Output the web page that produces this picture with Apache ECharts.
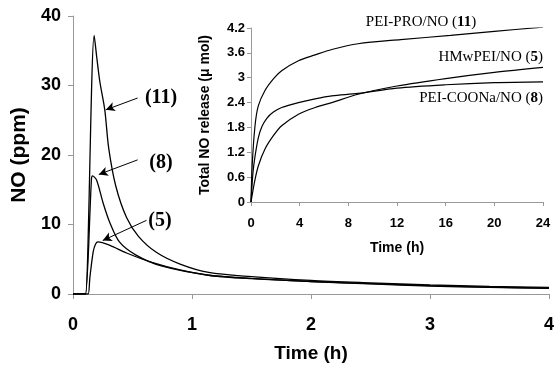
<!DOCTYPE html>
<html>
<head>
<meta charset="utf-8">
<script src="https://cdn.jsdelivr.net/npm/echarts@6/dist/echarts.min.js"></script>
<style>
  html, body { margin: 0; padding: 0; background: #fff; }
  #chart1 { width: 557px; height: 368px; }
</style>
</head>
<body>
<div id="chart1"></div>
<script>
// main chart: NO concentration (ppm) vs time (h)
var t11 = [0, 0.09, 0.105, 0.178, 0.20, 0.226, 0.267, 0.30, 0.36, 0.45, 0.55, 0.70, 0.90, 1.14, 1.5, 2.0, 2.5, 3.0, 3.5, 4.0];
var v11 = [0, 0, 0, 37.2, 34, 30.5, 26.5, 21, 15.5, 11, 8.3, 6, 4.3, 3.1, 2.5, 1.95, 1.6, 1.3, 1.1, 0.95];
var t8 = [0, 0.09, 0.105, 0.155, 0.164, 0.198, 0.253, 0.309, 0.39, 0.53, 0.75, 1.14, 1.5, 2.0, 2.5, 3.0, 3.5, 4.0];
var v8 = [0, 0, 0, 16.5, 17.0, 16.4, 13.1, 10.3, 7.5, 5.6, 4.0, 2.7, 2.2, 1.8, 1.45, 1.15, 0.95, 0.8];
var t5 = [0, 0.11, 0.128, 0.142, 0.17, 0.19, 0.21, 0.31, 0.45, 0.67, 0.89, 1.14, 1.5, 2.0, 2.5, 3.0, 3.5, 4.0];
var v5 = [0, 0, 0, 2.4, 6.1, 7.2, 7.5, 7.0, 5.9, 4.5, 3.5, 2.7, 2.25, 1.8, 1.5, 1.2, 1.0, 0.85];

// inset: total NO release (umol) vs time (h)
var it11 = [0, 0.1, 0.33, 0.6, 1.15, 1.84, 2.52, 3.9, 5.27, 6.64, 8.8, 12.3, 16.4, 20, 24];
var iv11 = [0, 0.9, 1.84, 2.32, 2.69, 2.97, 3.17, 3.41, 3.55, 3.68, 3.82, 3.92, 4.02, 4.12, 4.22];
var it8 = [0, 0.16, 0.33, 0.6, 0.9, 1.3, 1.84, 2.52, 3.9, 5.27, 6.64, 8.8, 12, 16, 20, 24];
var iv8 = [0, 0.7, 1.1, 1.55, 1.82, 2.02, 2.17, 2.28, 2.40, 2.49, 2.56, 2.62, 2.75, 2.83, 2.88, 2.9];
var it5 = [0, 0.3, 0.6, 1.15, 1.84, 2.52, 3.9, 5.27, 6.64, 8.8, 12, 16, 20, 24];
var iv5 = [0, 0.5, 0.87, 1.28, 1.6, 1.84, 2.12, 2.28, 2.40, 2.6, 2.8, 2.98, 3.13, 3.25];

// arrows pointing at the peaks, in data units of the main chart
var arrow11 = [[0.543, 28.2], [0.276, 26.5]];
var arrow8 = [[0.543, 19.3], [0.217, 17.2]];
var arrow5 = [[0.618, 10.6], [0.25, 7.7]];

function pairs(t, v) {
  return t.map(function (x, i) { return [x, v[i]]; });
}

var dom = document.getElementById('chart1');
var myChart = echarts.init(dom, null, { renderer: 'canvas' });

var axisGray = '#999';
var sans = 'Liberation Sans';
var serif = 'Liberation Serif';

function arrowLine(a) {
  return {
    silent: true,
    symbol: ['none', 'arrow'],
    symbolSize: [7, 9],
    lineStyle: { color: '#000', width: 1, type: 'solid' },
    label: { show: false },
    data: [[{ coord: a[0] }, { coord: a[1] }]]
  };
}

function mainSeries(t, v, arrow) {
  return {
    type: 'line',
    xAxisIndex: 0,
    yAxisIndex: 0,
    data: pairs(t, v),
    showSymbol: false,
    smooth: 0.3,
    lineStyle: { color: '#000', width: 1.3 },
    markLine: arrowLine(arrow)
  };
}

function insetSeries(t, v) {
  return {
    type: 'line',
    xAxisIndex: 1,
    yAxisIndex: 1,
    data: pairs(t, v),
    showSymbol: false,
    smooth: 0.3,
    lineStyle: { color: '#000', width: 1.2 }
  };
}

var option = {
  animation: false,
  backgroundColor: '#fff',
  grid: [
    { left: 73, right: 5, top: 16, bottom: 68 },
    { left: 251, right: 14, top: 28, bottom: 166 }
  ],
  xAxis: [
    {
      gridIndex: 0, type: 'value', min: 0, max: 4, interval: 1,
      name: 'Time (h)', nameLocation: 'middle', nameGap: 50,
      nameTextStyle: { fontFamily: sans, fontWeight: 'bold', fontSize: 19, color: '#000' },
      axisLine: { lineStyle: { color: axisGray } },
      axisTick: { length: 5, lineStyle: { color: axisGray } },
      axisLabel: { fontFamily: sans, fontWeight: 'bold', fontSize: 18, color: '#000', margin: 22 },
      splitLine: { show: false }
    },
    {
      gridIndex: 1, type: 'value', min: 0, max: 24, interval: 4,
      name: 'Time (h)', nameLocation: 'middle', nameGap: 39,
      nameTextStyle: { fontFamily: sans, fontWeight: 'bold', fontSize: 14, color: '#000' },
      axisLine: { lineStyle: { color: axisGray } },
      axisTick: { length: 4, lineStyle: { color: axisGray } },
      axisLabel: { fontFamily: sans, fontWeight: 'bold', fontSize: 13, color: '#000', margin: 15 },
      splitLine: { show: false }
    }
  ],
  yAxis: [
    {
      gridIndex: 0, type: 'value', min: 0, max: 40, interval: 10,
      name: 'NO (ppm)', nameLocation: 'middle', nameGap: 41,
      nameTextStyle: { fontFamily: sans, fontWeight: 'bold', fontSize: 21, color: '#000' },
      axisLine: { show: true, lineStyle: { color: axisGray } },
      axisTick: { show: true, length: 5, lineStyle: { color: axisGray } },
      axisLabel: { fontFamily: sans, fontWeight: 'bold', fontSize: 18, color: '#000', margin: 12 },
      splitLine: { show: false }
    },
    {
      gridIndex: 1, type: 'value', min: 0, max: 4.2, interval: 0.6,
      name: 'Total NO release (\u03bc mol)', nameLocation: 'middle', nameGap: 39,
      nameTextStyle: { fontFamily: sans, fontWeight: 'bold', fontSize: 14, color: '#000' },
      axisLine: { show: true, lineStyle: { color: axisGray } },
      axisTick: { show: true, length: 4, lineStyle: { color: axisGray } },
      axisLabel: {
        fontFamily: sans, fontWeight: 'bold', fontSize: 13, color: '#000', margin: 6,
        formatter: function (v) { return +v.toFixed(1) + ''; }
      },
      splitLine: { show: false }
    }
  ],
  graphic: [
    { type: 'text', x: 161, y: 98, style: { text: '(11)', font: 'bold 20px "Liberation Serif"', fill: '#000', align: 'center', verticalAlign: 'middle' } },
    { type: 'text', x: 161, y: 163, style: { text: '(8)', font: 'bold 20px "Liberation Serif"', fill: '#000', align: 'center', verticalAlign: 'middle' } },
    { type: 'text', x: 160, y: 221, style: { text: '(5)', font: 'bold 20px "Liberation Serif"', fill: '#000', align: 'center', verticalAlign: 'middle' } },
    {
      type: 'text', x: 421, y: 22,
      style: {
        text: '{n|PEI-PRO/NO (}{b|11}{n|)}', align: 'center', verticalAlign: 'middle',
        rich: { n: { fontFamily: serif, fontSize: 15, fill: '#000' }, b: { fontFamily: serif, fontSize: 15, fontWeight: 'bold', fill: '#000' } }
      }
    },
    {
      type: 'text', x: 543, y: 57,
      style: {
        text: '{n|HMwPEI/NO (}{b|5}{n|)}', align: 'right', verticalAlign: 'middle',
        rich: { n: { fontFamily: serif, fontSize: 15, fill: '#000' }, b: { fontFamily: serif, fontSize: 15, fontWeight: 'bold', fill: '#000' } }
      }
    },
    {
      type: 'text', x: 543, y: 98,
      style: {
        text: '{n|PEI-COONa/NO (}{b|8}{n|)}', align: 'right', verticalAlign: 'middle',
        rich: { n: { fontFamily: serif, fontSize: 15, fill: '#000' }, b: { fontFamily: serif, fontSize: 15, fontWeight: 'bold', fill: '#000' } }
      }
    }
  ],
  series: [
    mainSeries(t11, v11, arrow11),
    mainSeries(t8, v8, arrow8),
    mainSeries(t5, v5, arrow5),
    insetSeries(it11, iv11),
    insetSeries(it8, iv8),
    insetSeries(it5, iv5)
  ]
};

if (option && typeof option === 'object') {
  myChart.setOption(option);
}

window.addEventListener('resize', myChart.resize);
</script>
</body>
</html>
